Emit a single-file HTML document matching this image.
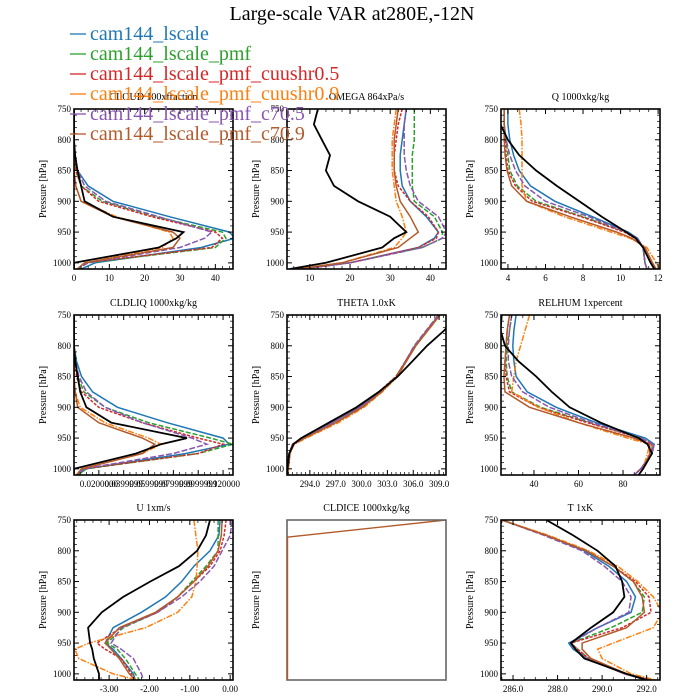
<!DOCTYPE html>
<html><head><meta charset="utf-8">
<style>
html,body{margin:0;padding:0;background:#fff;}
svg{display:block;font-family:"Liberation Serif",serif;}
</style></head>
<body>
<svg id="chart" width="700" height="700" viewBox="0 0 700 700" xmlns="http://www.w3.org/2000/svg">
<rect width="700" height="700" fill="#fff"/>
<text x="352" y="20" font-size="20" text-anchor="middle">Large-scale VAR at280E,-12N</text>
<g id="panels"></g>
<g id="legend"></g>
</svg>
<script>
const levels=[750,775,800,825,850,875,900,925,950,960,975,1000,1010];
const seriesNames=['obs','cam144_lscale','cam144_lscale_pmf','cam144_lscale_pmf_cuushr0.5','cam144_lscale_pmf_cuushr0.9','cam144_lscale_pmf_c70.5','cam144_lscale_pmf_c70.9'];
const seriesColors=['#000000','#1f77b4','#2ca02c','#d62728','#ff7f0e','#8856b0','#b35a2b'];
const seriesDash=['','','5,2','3,1.5','6,1.5,1.5,1.5','6,2',''];

const cloudVals=[
[0,0,0,0.3,1,2,3,11,31,29,24,0,0],
[0,0,0,0.2,1,4,11,27,44,45.5,36,6,2],
[0,0,0,0,0.5,2,8,23,42,43,40,4,1],
[0,0,0,0,0.5,2,7,22,40,42,39,3,1],
[0,0,0,0,0,0.5,2,12,27,28,25,3,1],
[0,0,0,0.3,1,3,9,24,39,37,30,4,1],
[0,0,0,0,0,0.5,2,11,28,30,28,3,1]];
const omegaVals=[
[12,11,13,15,14,16,22,30,34,31,28,14,5],
[34,33.5,33,32.5,32.5,33,35,39,42,41,37,20,8],
[36,36,36,35.5,35.5,35.5,36,41,43,43,38,20,8],
[33,32,31.5,31,31,32,35,39.5,42,41.5,37,20,8],
[31.5,31,30.5,30.5,30.5,31,31.5,33,34,33,31,18,7],
[34,33.5,33.5,33.5,34,35,37,42,44,43,38,20,8],
[32,31.5,31,31,31,31.5,32.5,35,37,35,32,18,7]];
const qVals=[
[3.4,3.6,4.0,4.6,5.5,6.6,7.8,9.0,10.3,10.8,11.2,11.6,11.8],
[4.0,4.0,4.1,4.3,4.6,5.2,6.5,8.5,10.4,10.9,11.2,11.3,11.4],
[3.8,3.8,3.9,4.0,4.1,4.5,5.5,8.0,10.3,10.8,11.2,11.3,11.4],
[3.8,3.8,3.85,3.9,4.0,4.4,5.3,7.9,10.2,10.8,11.2,11.3,11.4],
[4.6,4.7,4.75,4.75,4.75,4.75,5.0,7.0,9.5,10.5,11.4,11.9,12.1],
[3.8,3.8,3.9,4.1,4.4,4.9,6.0,8.3,10.3,10.9,11.2,11.3,11.4],
[3.8,3.8,3.8,3.85,3.95,4.2,5.0,7.3,9.8,10.6,11.3,11.7,11.9]];
const liqVals=[
[0,0,0,0.001,0.003,0.005,0.01,0.03,0.091,0.07,0.05,0,0],
[0,0,0,0.002,0.006,0.015,0.035,0.075,0.12,0.125,0.09,0.01,0.003],
[0,0,0,0.001,0.003,0.008,0.025,0.06,0.11,0.128,0.1,0.01,0.003],
[0,0,0,0.001,0.002,0.006,0.02,0.055,0.1,0.12,0.1,0.008,0.002],
[0,0,0,0,0,0.001,0.005,0.025,0.06,0.07,0.055,0.006,0.002],
[0,0,0,0.001,0.004,0.01,0.025,0.055,0.095,0.107,0.08,0.008,0.002],
[0,0,0,0,0,0.001,0.003,0.02,0.055,0.065,0.055,0.006,0.002]];
const thetaVals=[
[311.2,309.6,307.6,305.9,304.2,302.0,299.4,296.2,293.0,292.1,291.6,291.4,291.3],
[309.0,307.6,306.2,305.1,304.1,302.2,299.8,296.6,293.1,292.0,291.6,291.4,291.4],
[309.0,307.6,306.2,305.1,304.0,302.1,299.7,296.5,293.0,292.0,291.6,291.4,291.4],
[309.0,307.6,306.2,305.1,304.0,302.0,299.6,296.4,293.0,292.0,291.6,291.4,291.4],
[309.1,307.7,306.3,305.2,304.2,302.4,300.3,297.3,293.6,292.2,291.7,291.5,291.5],
[308.9,307.5,306.1,305.1,304.1,302.2,299.8,296.6,293.1,292.0,291.6,291.4,291.4],
[309.1,307.7,306.3,305.2,304.1,302.3,300.1,297.0,293.4,292.1,291.7,291.5,291.5]];
const rhVals=[
[25.5,25,27,33,41,48,56,70,87,91,93,89,87],
[32,31,30.5,31,32,37,50,68,90,94,93,88,85],
[30,29,28,27.5,28,30,43,65,88,93,93,88,85],
[29,28,27.5,27,27.5,29,42,64,88,93,93,88,85],
[38,36,34,32,31,30,42,60,82,92,91,89,87],
[30,29,28.5,28.5,30,35,47,66,88,94,93,88,85],
[29,28,27.5,27,26.5,27,38,60,85,92,92,89,87]];
const uVals=[
[-0.5,-0.6,-0.82,-1.27,-1.98,-2.65,-3.18,-3.52,-3.47,-3.42,-3.38,-3.25,-3.25],
[-0.25,-0.28,-0.5,-0.9,-1.2,-1.6,-2.2,-2.9,-3.1,-2.9,-2.7,-2.4,-2.35],
[-0.3,-0.3,-0.3,-0.6,-0.95,-1.3,-1.8,-2.65,-3.05,-2.8,-2.6,-2.35,-2.25],
[-0.1,-0.15,-0.25,-0.5,-0.9,-1.3,-1.8,-2.7,-3.3,-3.1,-2.7,-2.45,-2.35],
[-0.9,-0.85,-0.8,-0.82,-0.85,-0.95,-1.3,-2.1,-3.5,-3.85,-3.75,-2.9,-2.3],
[0.05,0.0,-0.2,-0.4,-0.75,-1.2,-1.8,-2.7,-2.95,-2.7,-2.4,-2.2,-2.15],
[-0.2,-0.22,-0.3,-0.55,-0.9,-1.3,-1.85,-2.75,-3.1,-2.95,-2.75,-2.5,-2.35]];
const tVals=[
[287.5,288.7,289.8,290.6,290.9,291.0,290.5,289.5,288.6,288.8,289.2,291.1,292.0],
[285.5,287.5,289.2,290.3,291.1,291.5,291.3,289.8,288.5,288.7,289.3,291.0,292.0],
[285.5,287.5,289.3,290.5,291.4,291.9,291.8,290.4,288.6,288.9,289.4,291.0,292.0],
[285.5,287.5,289.3,290.5,291.5,292.1,292.2,290.9,288.6,288.9,289.4,291.0,292.0],
[285.5,287.6,289.4,290.7,291.6,292.3,292.7,292.3,290.5,289.8,290.0,291.3,292.4],
[285.5,287.4,289.1,290.1,290.9,291.3,291.2,289.8,288.6,288.8,289.3,291.0,292.0],
[285.5,287.5,289.3,290.5,291.4,291.8,291.9,291.1,289.1,289.1,289.5,291.1,292.2]];
const cldiceLevels=[778,750];
const cldiceValues=[0,1];

const cloudTicks=[0,10,20,30,40];
const omegaTicks=[10,20,30,40];
const qTicks=[4,6,8,10,12];
const liqTicks=[0.02,0.04,0.06,0.08,0.1,0.12];
const liqTickLabels=['0.0200000','0.0399999','0.0599999','0.0799999','0.0999999','0.120000'];
const thetaTicks=[294,297,300,303,306,309];
const rhTicks=[40,60,80];
const uTicks=[-3,-2,-1,0];
const tTicks=[286,288,290,292];
const pTicks=[750,800,850,900,950,1000];

const NS='http://www.w3.org/2000/svg';
function mk(tag,attrs,parent){const e=document.createElementNS(NS,tag);for(const k in attrs)e.setAttribute(k,attrs[k]);if(parent)parent.appendChild(e);return e;}
const root=document.getElementById('panels');
let clipId=0;

function panel(name,title,L,T,xmin,xmax,ticks,labels,minorStep,vals,yLabels,frameColor){
  const W=159,H=160;
  const g=mk('g',{},root);
  
  
  const xs=v=>L+(v-xmin)/(xmax-xmin)*W;
  const ys=p=>T+(p-750)/260*H;
  const tt=mk('text',{x:L+W/2,y:T-9,'font-size':10,'text-anchor':'middle'},g);
  tt.textContent=title;
  
  
  const yl=mk('text',{x:0,y:0,'font-size':10,'text-anchor':'middle',transform:'translate('+(L-28)+','+(T+H/2)+') rotate(-90)'},g);
  yl.textContent='Pressure [hPa]';
  
  
  const cid='clip'+(clipId++);
  const cp=mk('clipPath',{id:cid},g);
  mk('rect',{x:L,y:T,width:W,height:H},cp);
  const lines=mk('g',{'clip-path':'url(#'+cid+')'},g);
  if(vals){
    const order=[1,2,3,4,5,6,0];
    order.forEach(i=>{
      const d=vals[i].map((v,k)=>(k?'L':'M')+xs(v).toFixed(1)+','+ys(levels[k]).toFixed(1)).join('');
      const pth=mk('path',{d:d,fill:'none',stroke:seriesColors[i],'stroke-width':i==0?1.8:1.5},lines);
      if(seriesDash[i])pth.setAttribute('stroke-dasharray',seriesDash[i]);
      
      
    });
  }
  const fc=frameColor||'#000';
  if(yLabels){
    for(let p=750;p<=1010;p+=10){
      const y=ys(p),maj=p%50==0,len=maj?5:3;
      mk('line',{x1:L,y1:y,x2:L+len,y2:y,stroke:'#000','stroke-width':maj?1:0.7},g);
      mk('line',{x1:L+W,y1:y,x2:L+W-len,y2:y,stroke:'#000','stroke-width':maj?1:0.7},g);
    }
    pTicks.forEach(p=>{
      const t=mk('text',{x:L-3,y:ys(p)+3,'font-size':9,'text-anchor':'end'},g);
      t.textContent=p;
      
      
    });
  }
  if(ticks){
    const step=minorStep;
    for(let v=Math.ceil(xmin/step)*step;v<=xmax+1e-9;v+=step){
      const x=xs(v);
      const maj=ticks.some(t=>Math.abs(t-v)<step/10),len=maj?5:3;
      mk('line',{x1:x,y1:T+H,x2:x,y2:T+H-len,stroke:'#000','stroke-width':maj?1:0.7},g);
      mk('line',{x1:x,y1:T,x2:x,y2:T+len,stroke:'#000','stroke-width':maj?1:0.7},g);
    }
    ticks.forEach((v,i)=>{
      const t=mk('text',{x:xs(v),y:T+H+12,'font-size':9,'text-anchor':'middle'},g);
      t.textContent=labels[i];
      
      
    });
  }
  const fr=mk('rect',{x:L,y:T,width:W,height:H,fill:'none',stroke:fc,'stroke-width':1.6},g);
  
  
  return {g,xs,ys,lines};
}
const fmt=(a,d)=>a.map(v=>v.toFixed(d));
panel('cloud','CLOUD  100xfraction',74,109,0,45,cloudTicks,fmt(cloudTicks,0),2,cloudVals,true);
panel('omega','OMEGA  864xPa/s',287,109,4.3,43.9,omegaTicks,fmt(omegaTicks,0),2,omegaVals,true);
panel('q','Q  1000xkg/kg',501,109,3.63,12.1,qTicks,fmt(qTicks,0),0.5,qVals,true);
panel('cldliq','CLDLIQ  1000xkg/kg',74,315,0,0.128,liqTicks,liqTickLabels,0.005,liqVals,true);
panel('theta','THETA  1.0xK',287,315,291.35,309.8,thetaTicks,fmt(thetaTicks,1),0.5,thetaVals,true);
panel('relhum','RELHUM  1xpercent',501,315,25.2,96.6,rhTicks,fmt(rhTicks,0),5,rhVals,true);
panel('u','U  1xm/s',74,520,-3.87,0.07,uTicks,fmt(uTicks,2),0.2,uVals,true);
const ice=panel('cldice','CLDICE  1000xkg/kg',287,520,0,1,null,null,1,null,false,'#666');
{
  const d=cldiceValues.map((v,k)=>(k?'L':'M')+ice.xs(v).toFixed(1)+','+ice.ys(cldiceLevels[k]).toFixed(1)).join('');
  const pth=mk('path',{d:d,fill:'none',stroke:seriesColors[6],'stroke-width':1.4},ice.lines);
  
  
  const v=mk('line',{x1:ice.xs(0)+0.5,y1:ice.ys(cldiceLevels[0]),x2:ice.xs(0)+0.5,y2:ice.ys(1010),stroke:seriesColors[6],'stroke-width':1.4},ice.g);
  
  
}
panel('t','T  1xK',501,520,285.46,292.6,tTicks,fmt(tTicks,1),0.5,tVals,true);

const lg=document.getElementById('legend');
for(let i=1;i<7;i++){
  const y=40+(i-1)*20;
  const ln=mk('line',{x1:70,y1:y-6,x2:86,y2:y-6,stroke:seriesColors[i],'stroke-width':1.3},lg);
  
  
  const t=mk('text',{x:90,y:y,'font-size':20,fill:seriesColors[i]},lg);
  t.textContent=seriesNames[i];
  
  
}
</script>
</body></html>
